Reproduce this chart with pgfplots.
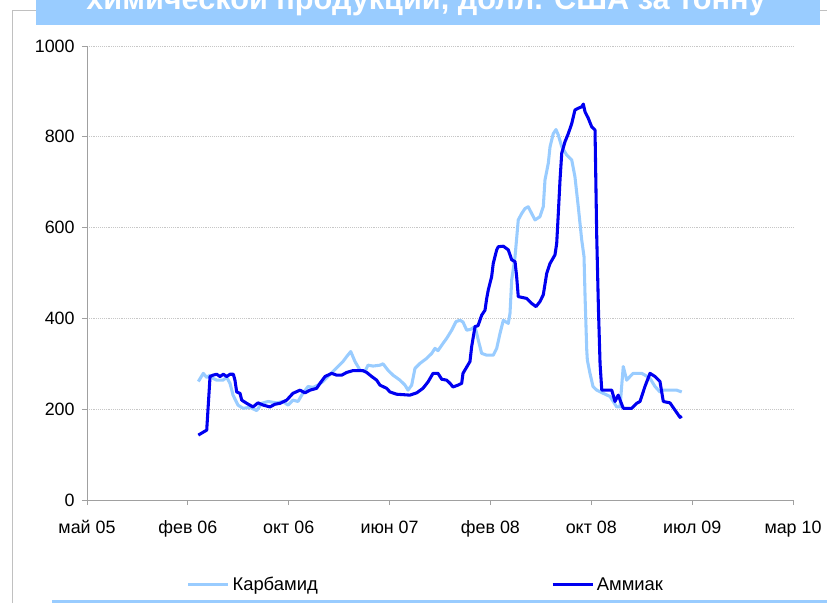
\documentclass[border=0pt]{standalone}
\usepackage{pgfplots}
\pgfplotsset{compat=1.18}
\usepackage{pgfplotstable}
\usepackage{fontspec}
\setmainfont{Liberation Sans}
\definecolor{barblue}{HTML}{99CCFF}
\definecolor{urea}{HTML}{99CCFF}
\definecolor{ammo}{RGB}{0,0,240}
\definecolor{axgray}{HTML}{A0A0A0}
\definecolor{frgray}{HTML}{C0C0C0}

\pgfplotstableread{
x y
1.104 261
1.153 279
1.187 270
1.220 275
1.249 268
1.286 264
1.348 264
1.385 270
1.418 257
1.448 231
1.497 209
1.547 202
1.616 204
1.683 197
1.732 213
1.795 217
1.881 214
1.943 217
1.993 209
2.042 220
2.092 217
2.129 231
2.191 250
2.241 248
2.290 253
2.340 261
2.389 272
2.439 283
2.489 294
2.538 305
2.575 316
2.615 327
2.657 305
2.707 286
2.756 283
2.786 297
2.836 295
2.905 297
2.935 300
2.984 286
3.034 275
3.103 264
3.153 253
3.183 242
3.219 253
3.252 290
3.302 301
3.368 312
3.418 323
3.450 334
3.480 329
3.530 345
3.566 356
3.616 374
3.659 393
3.698 396
3.728 392
3.765 374
3.805 376
3.847 382
3.880 352
3.913 323
3.963 319
4.028 319
4.062 334
4.095 367
4.128 396
4.177 389
4.194 411
4.211 485
4.244 536
4.276 617
4.310 631
4.343 642
4.375 646
4.409 631
4.442 617
4.491 624
4.524 646
4.541 705
4.574 742
4.591 778
4.623 807
4.650 816
4.673 804
4.707 778
4.756 760
4.806 749
4.838 712
4.871 646
4.905 573
4.928 536
4.938 450
4.955 330
4.961 308
4.987 279
5.017 250
5.054 242
5.119 235
5.186 228
5.218 217
5.252 205
5.285 205
5.301 250
5.317 294
5.334 279
5.351 264
5.384 272
5.416 279
5.500 279
5.532 275
5.582 268
5.632 250
5.681 238
5.714 242
5.780 242
5.846 242
5.897 238
}\urea

\pgfplotstableread{
x y
1.104 143
1.187 154
1.220 272
1.249 275
1.286 277
1.319 272
1.351 277
1.385 272
1.418 277
1.451 277
1.467 264
1.484 238
1.517 235
1.534 220
1.583 213
1.646 205
1.695 214
1.748 209
1.814 205
1.864 211
1.914 213
1.980 220
2.042 235
2.112 242
2.161 236
2.211 242
2.277 246
2.310 257
2.360 272
2.426 279
2.476 275
2.525 275
2.575 281
2.637 285
2.736 285
2.773 281
2.823 272
2.872 264
2.905 253
2.971 246
3.004 238
3.071 233
3.202 231
3.269 236
3.331 246
3.381 260
3.431 279
3.480 279
3.517 266
3.566 264
3.599 257
3.629 249
3.678 253
3.715 257
3.728 279
3.765 293
3.797 305
3.814 338
3.847 382
3.877 384
3.913 407
3.946 418
3.963 444
3.979 463
4.012 492
4.028 521
4.062 551
4.078 558
4.128 559
4.177 551
4.211 529
4.244 525
4.260 492
4.276 448
4.360 444
4.409 433
4.452 426
4.491 437
4.524 452
4.558 499
4.591 521
4.640 540
4.657 565
4.673 631
4.690 705
4.707 764
4.739 789
4.772 807
4.806 829
4.838 859
4.871 863
4.905 866
4.921 872
4.938 855
4.970 841
5.004 822
5.037 815
5.054 580
5.071 420
5.087 300
5.104 242
5.203 242
5.235 217
5.267 231
5.317 202
5.401 202
5.450 213
5.483 217
5.532 250
5.582 279
5.632 272
5.681 261
5.714 217
5.780 214
5.830 198
5.880 182
5.897 185
}\ammo

\begin{document}
\begin{tikzpicture}
\useasboundingbox (0pt,0pt) rectangle (620.25pt,-452.25pt);
\clip (0pt,0pt) rectangle (620.25pt,-452.25pt);
% frame
\draw[frgray, line width=0.75pt] ({12.7*0.75pt},{-603*0.75pt}) -- ({12.7*0.75pt},{-10*0.75pt}) -- ({827*0.75pt},{-10*0.75pt});
% title bar
\fill[barblue] ({36*0.75pt},{5pt}) rectangle ({820*0.75pt},{-25*0.75pt});
\node[anchor=base, text=white, font=\fontsize{23}{26}\selectfont\bfseries, inner sep=0pt] at ({426*0.75pt},{-9.5*0.75pt}) {химической продукции, долл. США за тонну};
% bottom line
\draw[barblue, line width=2.2pt] ({52*0.75pt},{-601.5*0.75pt}) -- ({830*0.75pt},{-601.5*0.75pt});

\begin{axis}[
  at={({87*0.75pt},{-500*0.75pt})}, anchor=south west,
  scale only axis, width=529.5pt, height=340.5pt,
  xmin=0, xmax=7, ymin=0, ymax=1000,
  xtick={0,1,2,3,4,5,6,7},
  xticklabels={май 05, фев 06, окт 06, июн 07, фев 08, окт 08, июл 09, мар 10},
  ytick={0,200,400,600,800,1000},
  axis lines*=left,
  axis line style={axgray, line width=0.75pt},
  tick style={axgray, line width=0.75pt},
  tick align=outside, major tick length=3.75pt,
  ymajorgrids, grid style={densely dotted, color=black!22, line width=0.6pt},
  ticklabel style={font=\fontsize{13.4}{15}\selectfont, text=black},
  /pgf/number format/assume math mode=true,
  /pgf/number format/1000 sep={},
  yticklabel style={xshift=-2pt},
  xticklabel style={text height=9.6pt, text depth=3pt, yshift=-8.5pt},
  legend columns=2,
  legend style={at={(axis description cs:0.141,-0.187)}, anchor=west, draw=none, fill=none,
    font=\fontsize{13.8}{15}\selectfont, inner sep=0pt,
    /tikz/every even column/.append style={column sep=173pt}},
  legend image code/.code={\draw[#1] (0pt,0pt) -- (30pt,0pt);},
  clip=false,
]
\addplot[urea, line width=2.3pt, line join=round] table[x=x,y=y] {\urea};
\addlegendentry{Карбамид}
\addplot[ammo, line width=2.3pt, line join=round] table[x=x,y=y] {\ammo};
\addlegendentry{Аммиак}
\end{axis}
\end{tikzpicture}
\end{document}
